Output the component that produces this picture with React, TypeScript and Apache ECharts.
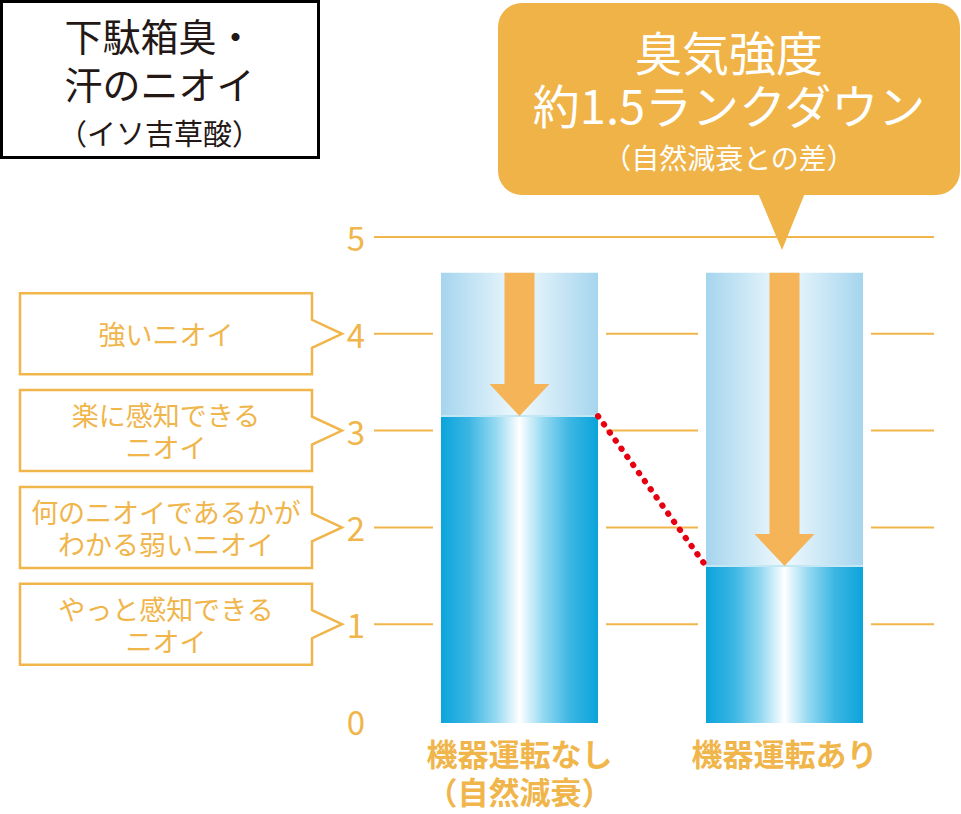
import React, { useEffect, useRef } from 'react';
import * as echarts from 'echarts';

// odour strength levels
const categories = ['機器運転なし\n（自然減衰）', '機器運転あり'];
const startLevel = [4.63, 4.63]; // top of the pale bar, where the arrow starts
const odorLevel = [3.15, 1.6];
const gridLevels = [1, 2, 3, 4, 5];
const calloutLevels = [4, 3, 2, 1];
const calloutTexts = [
  '強いニオイ',
  '楽に感知できる\nニオイ',
  '何のニオイであるかが\nわかる弱いニオイ',
  'やっと感知できる\nニオイ'
];
const titleLines = ['下駄箱臭・', '汗のニオイ', '（イソ吉草酸）'];
const bubbleLines = ['臭気強度', '約1.5ランクダウン', '（自然減衰との差）'];

const ORANGE = '#f0b54b';
const ARROW = '#f4b457';
const BUBBLE = '#efb347';
const FONT = "'Noto Sans CJK JP', 'Noto Sans', sans-serif";
const BAR_W = 157;

const App: React.FC = () => {
  const chartRef = useRef<HTMLDivElement>(null);

  useEffect(() => {
    document.body.style.margin = '0';
    if (!chartRef.current) return;
    const chart = echarts.init(chartRef.current, undefined, { renderer: 'svg' });

    const paleGrad = new echarts.graphic.LinearGradient(0, 0, 1, 0, [
      { offset: 0, color: '#a5d5ee' },
      { offset: 0.5, color: '#f0f9fd' },
      { offset: 1, color: '#a5d5ee' }
    ]);
    const deepGrad = new echarts.graphic.LinearGradient(0, 0, 1, 0, [
      { offset: 0, color: '#0aa4db' },
      { offset: 0.18, color: '#3cb6e3' },
      { offset: 0.35, color: '#95d9f1' },
      { offset: 0.5, color: '#ffffff' },
      { offset: 0.65, color: '#95d9f1' },
      { offset: 0.82, color: '#3cb6e3' },
      { offset: 1, color: '#0aa4db' }
    ]);

    const option = {
      animation: false,
      grid: {
        left: 387,
        right: 44,
        top: 237,
        bottom: 93,
        containLabel: false,
        outerBoundsMode: 'none'
      },
      xAxis: {
        type: 'category',
        data: categories,
        axisLine: { show: false },
        axisTick: { show: false },
        axisLabel: {
          color: ORANGE,
          fontSize: 31,
          fontWeight: 'bold',
          fontFamily: FONT,
          lineHeight: 38,
          margin: 12
        }
      },
      yAxis: {
        type: 'value',
        min: 0,
        max: 5,
        interval: 1,
        axisLine: { show: false },
        axisTick: { show: false },
        splitLine: { show: false },
        axisLabel: {
          color: ORANGE,
          fontSize: 33,
          fontFamily: FONT,
          margin: 22
        }
      },
      series: [
        {
          // horizontal guide lines, a little wider than the grid
          type: 'custom',
          z: 1,
          data: gridLevels.map(v => [0, v]),
          renderItem: (params: any, api: any) => {
            const cs = params.coordSys;
            const y = api.coord([0, api.value(1)])[1];
            return {
              type: 'line',
              shape: { x1: cs.x - 13, y1: y, x2: cs.x + cs.width + 17, y2: y },
              style: { stroke: ORANGE, lineWidth: 2 }
            };
          }
        },
        {
          type: 'custom',
          z: 2,
          data: categories.map((_, i) => [i, startLevel[i], odorLevel[i]]),
          renderItem: (params: any, api: any) => {
            const i = api.value(0);
            const base = api.coord([i, 0]);
            const top = api.coord([i, api.value(1)])[1];
            const lvl = api.coord([i, api.value(2)])[1];
            const cx = base[0];
            const x = cx - BAR_W / 2;
            const bottom = base[1] + 2;
            return {
              type: 'group',
              children: [
                {
                  type: 'rect',
                  shape: { x: x - 8, y: top, width: BAR_W + 16, height: bottom - top },
                  style: { fill: '#ffffff' }
                },
                {
                  type: 'rect',
                  shape: { x, y: top, width: BAR_W, height: bottom - top },
                  style: { fill: paleGrad }
                },
                {
                  type: 'rect',
                  shape: { x, y: lvl, width: BAR_W, height: bottom - lvl },
                  style: { fill: deepGrad }
                },
                {
                  type: 'rect',
                  shape: { x, y: lvl - 1, width: BAR_W, height: 2 },
                  style: { fill: '#c4e7f6' }
                },
                {
                  type: 'polygon',
                  shape: {
                    points: [
                      [cx - 15, top], [cx + 15, top], [cx + 15, lvl - 32],
                      [cx + 30, lvl - 32], [cx, lvl], [cx - 30, lvl - 32],
                      [cx - 15, lvl - 32]
                    ]
                  },
                  style: { fill: ARROW }
                }
              ]
            };
          }
        },
        {
          // red dotted link between the two odour levels
          type: 'custom',
          z: 3,
          data: [[0, odorLevel[0], 1, odorLevel[1]]],
          renderItem: (params: any, api: any) => {
            const p1 = api.coord([api.value(0), api.value(1)]);
            const p2 = api.coord([api.value(2), api.value(3)]);
            return {
              type: 'line',
              shape: { x1: p1[0] + BAR_W / 2, y1: p1[1], x2: p2[0] - BAR_W / 2, y2: p2[1] },
              style: { stroke: '#e60012', lineWidth: 6, lineDash: [0.5, 9.5], lineCap: 'round' }
            };
          }
        },
        {
          // level descriptions on the left
          type: 'custom',
          z: 3,
          data: calloutLevels.map(v => [0, v]),
          renderItem: (params: any, api: any) => {
            const cs = params.coordSys;
            const y = api.coord([0, api.value(1)])[1];
            const tip = cs.x - 45;
            const right = tip - 30;
            const left = 20;
            const t = y - 40.5;
            const b = y + 40.5;
            return {
              type: 'group',
              children: [
                {
                  type: 'polygon',
                  shape: {
                    points: [
                      [left, t], [right, t], [right, y - 14], [tip, y],
                      [right, y + 14], [right, b], [left, b]
                    ]
                  },
                  style: { fill: '#ffffff', stroke: ORANGE, lineWidth: 2.5, lineJoin: 'miter' }
                },
                {
                  type: 'text',
                  style: {
                    text: calloutTexts[params.dataIndex],
                    x: (left + right) / 2,
                    y,
                    align: 'center',
                    verticalAlign: 'middle',
                    fill: ORANGE,
                    fontSize: 27,
                    lineHeight: 32,
                    fontFamily: FONT
                  }
                }
              ]
            };
          }
        }
      ],
      graphic: [
        {
          type: 'rect',
          z: 10,
          shape: { x: 1.5, y: 1.5, width: 317, height: 156 },
          style: { fill: '#ffffff', stroke: '#000000', lineWidth: 3 }
        },
        {
          type: 'text',
          z: 11,
          style: {
            text: `{a|${titleLines[0]}}\n{a|${titleLines[1]}}\n{b|${titleLines[2]}}`,
            x: 159.5,
            y: 10,
            align: 'center',
            verticalAlign: 'top',
            fill: '#231815',
            fontFamily: FONT,
            rich: {
              a: { fontSize: 38, lineHeight: 48, fontFamily: FONT, fill: '#231815' },
              b: { fontSize: 29, lineHeight: 52, fontFamily: FONT, fill: '#231815' }
            }
          }
        },
        {
          type: 'rect',
          z: 10,
          shape: { x: 498, y: 3, width: 462, height: 192, r: 24 },
          style: { fill: BUBBLE }
        },
        {
          type: 'polygon',
          z: 10,
          shape: { points: [[758, 193], [805, 193], [782, 250]] },
          style: { fill: BUBBLE }
        },
        {
          type: 'text',
          z: 11,
          style: {
            text: `{a|${bubbleLines[0]}}\n{a|${bubbleLines[1]}}\n{b|${bubbleLines[2]}}`,
            x: 729,
            y: 23.5,
            align: 'center',
            verticalAlign: 'top',
            fill: '#ffffff',
            fontFamily: FONT,
            rich: {
              a: { fontSize: 47, lineHeight: 53, fontFamily: FONT, fill: '#ffffff' },
              b: { fontSize: 28, lineHeight: 55, fontFamily: FONT, fill: '#ffffff' }
            }
          }
        }
      ]
    };

    chart.setOption(option as any);

    return () => {
      chart.dispose();
    };
  }, []);

  return (
    <div
      ref={chartRef}
      style={{ position: 'absolute', left: 0, top: 0, width: '961px', height: '814px' }}
    />
  );
};

export default App;
